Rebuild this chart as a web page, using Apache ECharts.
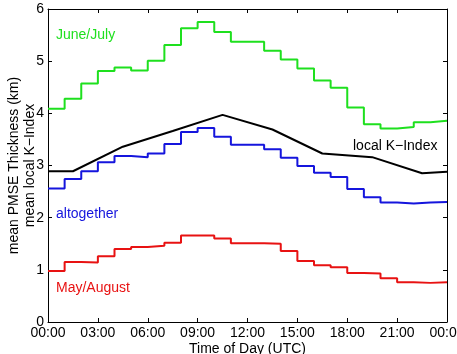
<!DOCTYPE html>
<html>
<head>
<meta charset="utf-8">
<script src="https://cdn.jsdelivr.net/npm/echarts@6/dist/echarts.min.js"></script>
<style>
html, body { margin: 0; padding: 0; background: #fff; }
#main { width: 457px; height: 354px; }
</style>
</head>
<body>
<div id="main"></div>
<script>
// hourly bin edges (UTC)
var hours = [0, 1, 2, 3, 4, 5, 6, 7, 8, 9, 10, 11, 12, 13, 14, 15, 16, 17, 18, 19, 20, 21, 22, 23, 24];
var xTickLabels = ['00:00', '03:00', '06:00', '09:00', '12:00', '15:00', '18:00', '21:00', '00:00'];

// mean PMSE thickness (km) per hour
var juneJuly = [4.09, 4.28, 4.57, 4.81, 4.88, 4.82, 5.01, 5.31, 5.63, 5.75, 5.56, 5.37,
	5.37, 5.20, 5.03, 4.86, 4.63, 4.49, 4.11, 3.79, 3.71, 3.74, 3.83, 3.86];
var altogether = [2.56, 2.74, 2.89, 3.06, 3.18, 3.16, 3.23, 3.41, 3.64, 3.72, 3.55, 3.40,
	3.40, 3.31, 3.15, 2.99, 2.86, 2.78, 2.55, 2.39, 2.29, 2.27, 2.29, 2.30];
var mayAugust = [0.98, 1.15, 1.14, 1.26, 1.40, 1.44, 1.46, 1.52, 1.66, 1.66, 1.60, 1.51,
	1.51, 1.50, 1.36, 1.17, 1.09, 1.05, 0.94, 0.93, 0.84, 0.76, 0.75, 0.76];

// mean local K-Index (3-hourly)
var kHours = [0, 1.5, 4.5, 7.5, 10.5, 13.5, 16.5, 19.5, 22.5, 24];
var kIndex = [2.89, 2.89, 3.36, 3.66, 3.97, 3.69, 3.23, 3.16, 2.85, 2.88];

function stepData(vals) {
	var d = [];
	for (var i = 0; i < vals.length; i++) {
		d.push([hours[i], vals[i]]);
	}
	d.push([hours[vals.length], vals[vals.length - 1]]);
	return d;
}
function lineData(xs, ys) {
	var d = [];
	for (var i = 0; i < xs.length; i++) {
		d.push([xs[i], ys[i]]);
	}
	return d;
}

var font = 'Liberation Sans, Arial, sans-serif';
var axisBase = {
	min: 0,
	axisLine: { show: true, onZero: false, lineStyle: { color: '#000', width: 1 } },
	axisTick: { show: true, inside: true, length: 4, lineStyle: { color: '#000' } },
	splitLine: { show: false }
};

var myChart = echarts.init(document.getElementById('main'));

var option = {
	animation: false,
	backgroundColor: '#fff',
	grid: { left: 48, right: 10, top: 9, bottom: 32, outerBoundsMode: 'none' }
};

option.xAxis = [
	Object.assign({}, axisBase, {
		type: 'value', max: 24, interval: 3, position: 'bottom',
		name: 'Time of Day (UTC)', nameLocation: 'middle', nameGap: 20,
		nameMoveOverlap: false,
		nameTextStyle: { fontFamily: font, fontSize: 14, color: '#000' },
		axisLabel: {
			fontFamily: font, fontSize: 14, color: '#000', margin: 4,
			formatter: function(v) { return xTickLabels[Math.round(v / 3)]; }
		}
	}),
	Object.assign({}, axisBase, {
		type: 'value', max: 24, interval: 3, position: 'top',
		axisLabel: { show: false }
	})
];
option.yAxis = [
	Object.assign({}, axisBase, {
		type: 'value', max: 6, interval: 1, position: 'left',
		name: 'mean PMSE Thickness (km)\nmean local K\u2212Index', nameLocation: 'middle',
		nameGap: 10, nameRotate: 90, nameMoveOverlap: false,
		nameTextStyle: { fontFamily: font, fontSize: 14, color: '#000', lineHeight: 16 },
		axisLabel: { fontFamily: font, fontSize: 14, color: '#000', margin: 4 }
	}),
	Object.assign({}, axisBase, {
		type: 'value', max: 6, interval: 1, position: 'right',
		axisLabel: { show: false }
	})
];

function stepSeries(name, vals, color) {
	return {
		name: name, type: 'line', step: 'end',
		xAxisIndex: 0, yAxisIndex: 0,
		symbol: 'none', showSymbol: false,
		lineStyle: { color: color, width: 2 },
		data: stepData(vals)
	};
}

option.series = [
	stepSeries('June/July', juneJuly, '#1ee01e'),
	stepSeries('altogether', altogether, '#1515dd'),
	stepSeries('May/August', mayAugust, '#e81212'),
	{
		name: 'local K-Index', type: 'line',
		xAxisIndex: 0, yAxisIndex: 0,
		symbol: 'none', showSymbol: false,
		lineStyle: { color: '#000', width: 2 },
		data: lineData(kHours, kIndex)
	}
];

// in-plot text labels
function label(x, y, text, color) {
	return {
		type: 'text', left: x, top: y,
		style: { text: text, fill: color, font: '14px ' + font }
	};
}
option.graphic = [
	label(56, 28, 'June/July', '#1ee01e'),
	label(353, 139, 'local K\u2212Index', '#000'),
	label(56, 207, 'altogether', '#1515dd'),
	label(56, 281, 'May/August', '#e81212')
];

myChart.setOption(option);
</script>
</body>
</html>
